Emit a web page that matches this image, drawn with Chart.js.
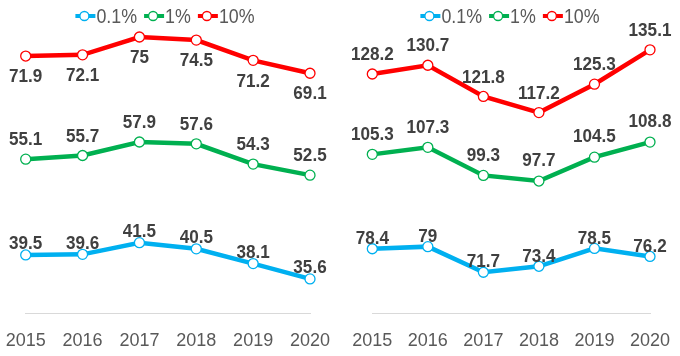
<!DOCTYPE html>
<html>
<head>
<meta charset="utf-8">
<script src="https://cdn.jsdelivr.net/npm/chart.js@4/dist/chart.umd.min.js"></script>
<style>
  html, body { margin: 0; padding: 0; background: #fff; overflow: hidden; }
  #wrap { position: relative; width: 680px; height: 356px; }
  .panel { position: absolute; top: 0; width: 340px; height: 356px; }
  #p1 { left: 0; }
  #p2 { left: 340px; }
</style>
</head>
<body>
<div id="wrap">
  <div class="panel" id="p1"><canvas id="c1" width="340" height="356"></canvas></div>
  <div class="panel" id="p2"><canvas id="c2" width="340" height="356"></canvas></div>
</div>
<script>
// ---- data ----
const years = ["2015", "2016", "2017", "2018", "2019", "2020"];
const seriesNames = ["0.1%", "1%", "10%"];

const left01  = [39.5, 39.6, 41.5, 40.5, 38.1, 35.6];
const left1   = [55.1, 55.7, 57.9, 57.6, 54.3, 52.5];
const left10  = [71.9, 72.1, 75, 74.5, 71.2, 69.1];

const right01 = [78.4, 79, 71.7, 73.4, 78.5, 76.2];
const right1  = [105.3, 107.3, 99.3, 97.7, 104.5, 108.8];
const right10 = [128.2, 130.7, 121.8, 117.2, 125.3, 135.1];

// ---- styles ----
const colors = ["#00B0F0", "#00B050", "#FF0000"];

const labelPlugin = {
  id: 'pointLabels',
  afterDatasetsDraw(chart) {
    const ctx = chart.ctx;
    const offs = chart.options.plugins.pointLabels.offsets;
    chart.data.datasets.forEach((ds, i) => {
      const meta = chart.getDatasetMeta(i);
      meta.data.forEach((pt, j) => {
        const v = ds.data[j];
        ctx.save();
        ctx.translate(pt.x, pt.y + offs[i]);
        ctx.scale(0.9, 1);
        ctx.font = "bold 19px 'Liberation Sans', Arial, sans-serif";
        ctx.fillStyle = "#404040";
        ctx.textAlign = "center";
        ctx.textBaseline = "middle";
        ctx.fillText(String(v), 0, 0);
        ctx.restore();
      });
    });
  },
  afterDraw(chart) {
    // legend
    const ctx = chart.ctx;
    const cfg = chart.options.plugins.pointLabels;
    const fontPx = 21, sx = 0.85;
    ctx.save();
    ctx.font = fontPx + "px 'Liberation Sans', Arial, sans-serif";
    const iconW = 20, gapAfterText = 7, gapText = 1;
    const widths = chart.data.datasets.map(ds => ctx.measureText(ds.label).width * sx);
    let total = 0;
    widths.forEach((w, i) => { total += iconW + gapText + w + (i < widths.length - 1 ? gapAfterText : 0); });
    let x = cfg.legendCenter - total / 2;
    const y = 16;
    chart.data.datasets.forEach((ds, i) => {
      const c = ds.borderColor;
      ctx.strokeStyle = c;
      ctx.lineWidth = 4;
      ctx.lineCap = 'butt';
      ctx.beginPath();
      ctx.moveTo(x, y);
      ctx.lineTo(x + iconW, y);
      ctx.stroke();
      ctx.beginPath();
      ctx.arc(x + 9, y, 4.5, 0, Math.PI * 2);
      ctx.fillStyle = '#fff';
      ctx.fill();
      ctx.lineWidth = 1.3;
      ctx.stroke();
      x += iconW + gapText;
      ctx.save();
      ctx.translate(x, y);
      ctx.scale(sx, 1);
      ctx.fillStyle = '#595959';
      ctx.textAlign = 'left';
      ctx.textBaseline = 'middle';
      ctx.fillText(ds.label, 0, 1);
      ctx.restore();
      x += widths[i] + gapAfterText;
    });
    ctx.restore();
  }
};

function makeChart(id, s01, s1, s10, yMin, yMax, padL, offsets, legendCenter) {
  const sets = [s01, s1, s10];
  return new Chart(document.getElementById(id), {
    type: 'line',
    data: {
      labels: years,
      datasets: sets.map((d, i) => ({
        label: seriesNames[i],
        data: d,
        borderColor: colors[i],
        backgroundColor: '#ffffff',
        borderWidth: 4.5,
        pointRadius: 5,
        pointBorderWidth: 1.3,
        pointBackgroundColor: '#ffffff',
        pointBorderColor: colors[i],
        tension: 0,
        fill: false
      }))
    },
    options: {
      responsive: false,
      animation: false,
      devicePixelRatio: 1,
      layout: { padding: { left: padL, right: 30, top: 3, bottom: 0 } },
      plugins: {
        legend: { display: false },
        tooltip: { enabled: false },
        pointLabels: { offsets: offsets, legendCenter: legendCenter }
      },
      scales: {
        x: {
          offset: false,
          grid: { display: false, drawTicks: false },
          border: { display: true, color: '#d9d9d9', width: 1 },
          ticks: {
            color: '#595959',
            padding: 17,
            font: { family: "'Liberation Sans', Arial, sans-serif", size: 18 },
            maxRotation: 0,
            autoSkip: false
          },
          afterFit(scale) {
            scale.paddingLeft = 0;
            scale.paddingRight = 0;
            scale.height = 42.7;
          }
        },
        y: {
          display: false,
          min: yMin,
          max: yMax
        }
      }
    },
    plugins: [labelPlugin]
  });
}

makeChart('c1', left01, left1, left10, 30, 80, 25.7, [-11, -19, 21], 165);
makeChart('c2', right01, right1, right10, 60, 147.5, 32.3, [-10, -20, -19], 170);
</script>
</body>
</html>
